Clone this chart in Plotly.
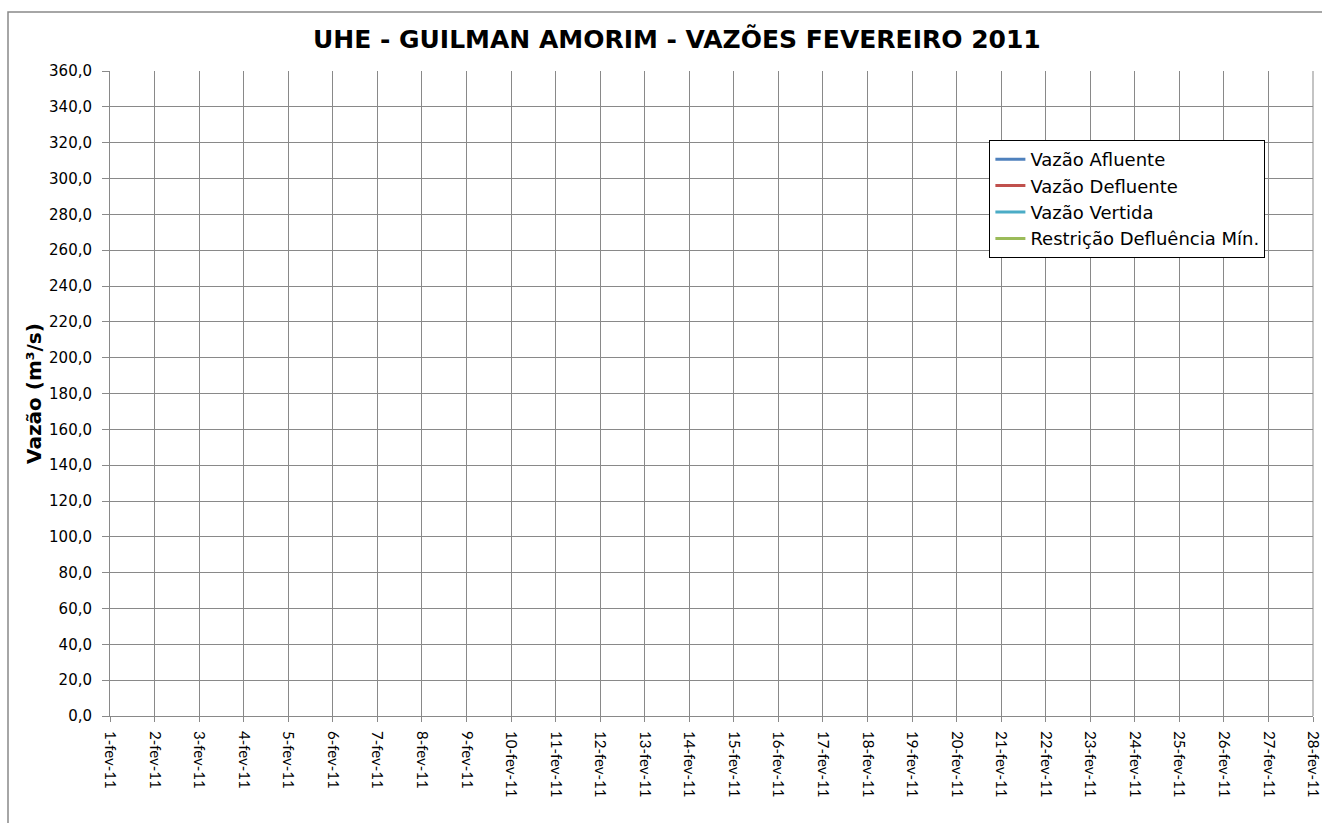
import plotly.graph_objects as go

# Data
dates = [f"{d}-fev-11" for d in range(1, 29)]
vazao_afluente = [None] * 28
vazao_defluente = [None] * 28
vazao_vertida = [None] * 28
restricao_min = [None] * 28
y_ticks = [i * 20 for i in range(0, 19)]
y_ticklabels = [f"{v:.1f}".replace(".", ",") for v in y_ticks]

series = [
    ("Vazão Afluente", vazao_afluente, "#4F81BD"),
    ("Vazão Defluente", vazao_defluente, "#C0504D"),
    ("Vazão Vertida", vazao_vertida, "#4BACC6"),
    ("Restrição Defluência Mín.", restricao_min, "#9BBB59"),
]

WIDE = "'DejaVu Sans', Verdana, sans-serif"
NARROW = "Lato, 'Open Sans', sans-serif"
GRID = "#898989"

fig = go.Figure()
for name, vals, color in series:
    fig.add_trace(go.Scatter(
        x=list(range(len(dates))), y=vals, name=name, mode="lines",
        line=dict(color=color, width=3), showlegend=True,
    ))

fig.update_layout(
    width=1322, height=823,
    margin=dict(l=110, r=9, t=71, b=107, autoexpand=False),
    paper_bgcolor="white", plot_bgcolor="white",
    font=dict(family=WIDE, color="black", size=14),
    title=dict(
        text="<b>UHE - GUILMAN AMORIM - VAZÕES FEVEREIRO 2011</b>",
        x=0.512, xanchor="center", y=0.952, yanchor="middle",
        font=dict(size=25, family=WIDE, color="black"),
    ),
    legend=dict(
        x=0.731, y=0.893, xanchor="left", yanchor="top",
        bgcolor="white", bordercolor="black", borderwidth=1,
        font=dict(size=18, family=WIDE),
        tracegroupgap=0, itemwidth=30,
    ),
    showlegend=True,
)

fig.update_xaxes(
    range=[0, 27], tickmode="array",
    tickvals=list(range(len(dates))), ticktext=dates,
    tickangle=90, showgrid=True, gridcolor=GRID, gridwidth=1,
    showline=True, linecolor=GRID, linewidth=1,
    ticks="outside", ticklen=5, tickcolor=GRID,
    tickfont=dict(size=15, family=NARROW), zeroline=False,
    ticklabeloverflow="allow", ticklabelstandoff=6, automargin=False,
)
fig.update_yaxes(
    range=[0, 360], tickmode="array", tickvals=y_ticks, ticktext=y_ticklabels,
    showgrid=True, gridcolor=GRID, gridwidth=1,
    showline=True, linecolor=GRID, linewidth=1,
    ticks="outside", ticklen=7, tickcolor=GRID,
    tickfont=dict(size=15, family=WIDE), zeroline=False,
    ticklabelstandoff=7, automargin=False,
    title=dict(text="<b>Vazão (m³/s)</b>", font=dict(size=20, family=WIDE), standoff=2),
)

# right border of plot area (last gridline)
fig.add_shape(type="line", xref="paper", yref="paper", x0=1, x1=1, y0=0, y1=1,
              line=dict(color=GRID, width=1))
# outer chart border
fig.add_shape(type="rect", xref="paper", yref="paper",
              x0=(8 - 110) / 1203, x1=1.02, y0=-0.25, y1=(716 - 12) / 645,
              line=dict(color=GRID, width=1.5), layer="below")

fig.write_html("out.html", config={"displayModeBar": False},
               post_script="document.body.style.margin='0';document.body.style.padding='0';")
